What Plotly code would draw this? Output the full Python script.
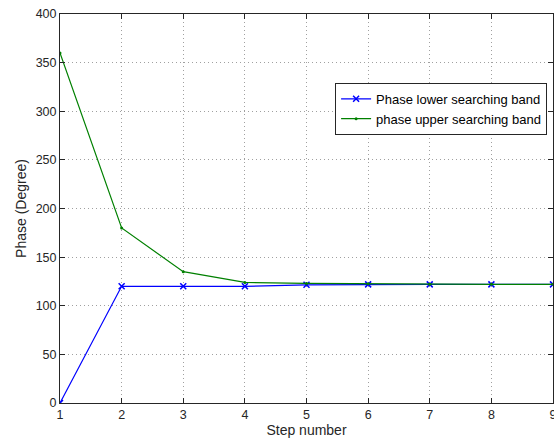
import plotly.graph_objects as go

steps = [1, 2, 3, 4, 5, 6, 7, 8, 9]
lower_band = [0, 120, 120, 120, 121.5, 122, 122, 122, 122]
upper_band = [360, 180, 135, 124, 123, 122.5, 122, 122, 122]

FONT = "Liberation Sans, Arial, sans-serif"

fig = go.Figure()
fig.add_trace(go.Scatter(
    x=steps, y=lower_band, mode="lines+markers",
    name="Phase lower searching band",
    line=dict(color="#0000ff", width=1.2),
    marker=dict(symbol="x-thin", size=6, line=dict(color="#0000ff", width=1.5)),
))
fig.add_trace(go.Scatter(
    x=steps, y=upper_band, mode="lines+markers",
    name="phase upper searching band",
    line=dict(color="#008000", width=1.2),
    marker=dict(symbol="circle", size=3, color="#008000"),
))

axis_common = dict(
    showline=True, linecolor="#262626", linewidth=1, mirror="ticks",
    ticks="inside", ticklen=5, tickcolor="#262626",
    showgrid=True, gridcolor="#a0a0a0", griddash="1px,3px", gridwidth=1,
    zeroline=False, automargin=False,
    tickfont=dict(family=FONT, size=12.5, color="#262626"),
    title_font=dict(family=FONT, size=14, color="#262626"),
)

fig.update_xaxes(range=[1, 9], tickvals=steps, title_text="Step number",
                 title_standoff=3, ticklabeloverflow="allow", **axis_common)
fig.update_yaxes(range=[0, 400], tickvals=[0, 50, 100, 150, 200, 250, 300, 350, 400],
                 title_text="Phase (Degree)", title_standoff=5, **axis_common)

fig.update_layout(
    width=554, height=442,
    margin=dict(l=60, r=1, t=14, b=39),
    paper_bgcolor="white", plot_bgcolor="white",
    showlegend=True,
    legend=dict(
        x=0.558, y=0.823, xanchor="left", yanchor="top",
        bgcolor="white", bordercolor="#262626", borderwidth=1,
        font=dict(family=FONT, size=13, color="#000000"),
        tracegroupgap=0, itemwidth=30,
    ),
)

fig.write_html("out.html")
